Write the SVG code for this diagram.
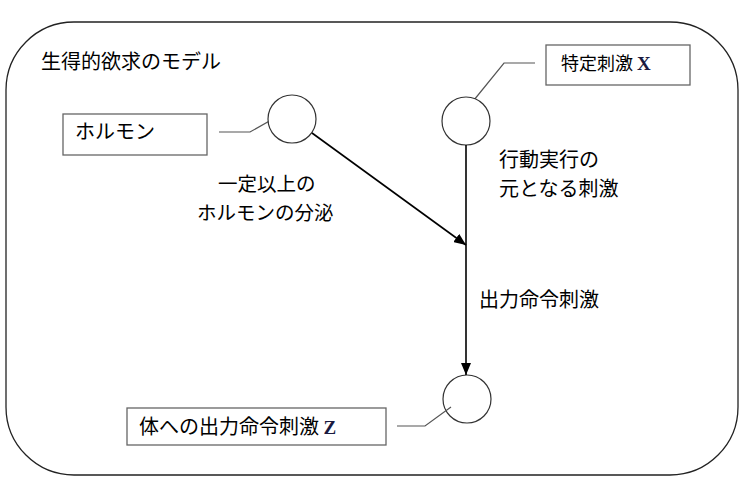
<svg xmlns="http://www.w3.org/2000/svg" width="748" height="491" viewBox="0 0 748 491">
<defs>
<style>
.t{font-family:"Noto Sans CJK JP","Noto Sans",sans-serif;font-size:20px;fill:#000}
.m{font-size:19.5px}
.s{font-family:"Liberation Serif",serif;font-weight:bold;font-size:19px;fill:#1a1a40}
.box{fill:#fff;stroke:#666;stroke-width:1.3}
.circ{fill:#fff;stroke:#333;stroke-width:1.2}
.call{fill:none;stroke:#555;stroke-width:1.2}
.conn{fill:none;stroke:#000;stroke-width:1.6}
</style>
<marker id="ah" markerWidth="12" markerHeight="10" refX="12" refY="5" orient="auto" markerUnits="userSpaceOnUse">
<path d="M0,0 L12,5 L0,10 Z" fill="#000"/>
</marker>
</defs>
<rect width="748" height="491" fill="#fff"/>
<g id="frame">
<rect x="6" y="22" width="732" height="453" rx="68" ry="68" fill="none" stroke="#222" stroke-width="1.3"/>
<text class="t" x="41" y="69">生得的欲求のモデル</text>
</g>
<g id="hormone">
<rect class="box" x="63" y="114" width="144" height="41"/>
<text class="t" x="75" y="139">ホルモン</text>
<path class="call" d="M219,132 L250,132 L280,115"/>
</g>
<g id="circleA">
<circle class="circ" cx="292" cy="119" r="24"/>
</g>
<g id="stimX">
<rect class="box" x="546" y="45" width="144" height="40"/>
<text class="t" x="561" y="70" style="font-size:18px">特定刺激 <tspan class="s">X</tspan></text>
<path class="call" d="M535,63 L504,63 L474,100"/>
</g>
<g id="circleB">
<circle class="circ" cx="466" cy="121" r="24"/>
</g>
<g id="circleC">
<circle class="circ" cx="467" cy="399" r="24"/>
</g>
<g id="outZ">
<rect class="box" x="127" y="408" width="259" height="37"/>
<text class="t" x="139" y="434">体への出力命令刺激 <tspan class="s">Z</tspan></text>
<path class="call" d="M397,426 L425,426 L451,407"/>
</g>
<g id="labels">
<text class="t m" x="218" y="191">一定以上の</text>
<text class="t m" x="197" y="220">ホルモンの分泌</text>
<text class="t" x="499" y="167">行動実行の</text>
<text class="t" x="499" y="196">元となる刺激</text>
<text class="t" x="479" y="307">出力命令刺激</text>
</g>
<g id="connectors">
<line class="conn" x1="312" y1="133" x2="466" y2="245" marker-end="url(#ah)"/>
<line class="conn" x1="466" y1="145" x2="466" y2="375" marker-end="url(#ah)"/>
</g>
</svg>
